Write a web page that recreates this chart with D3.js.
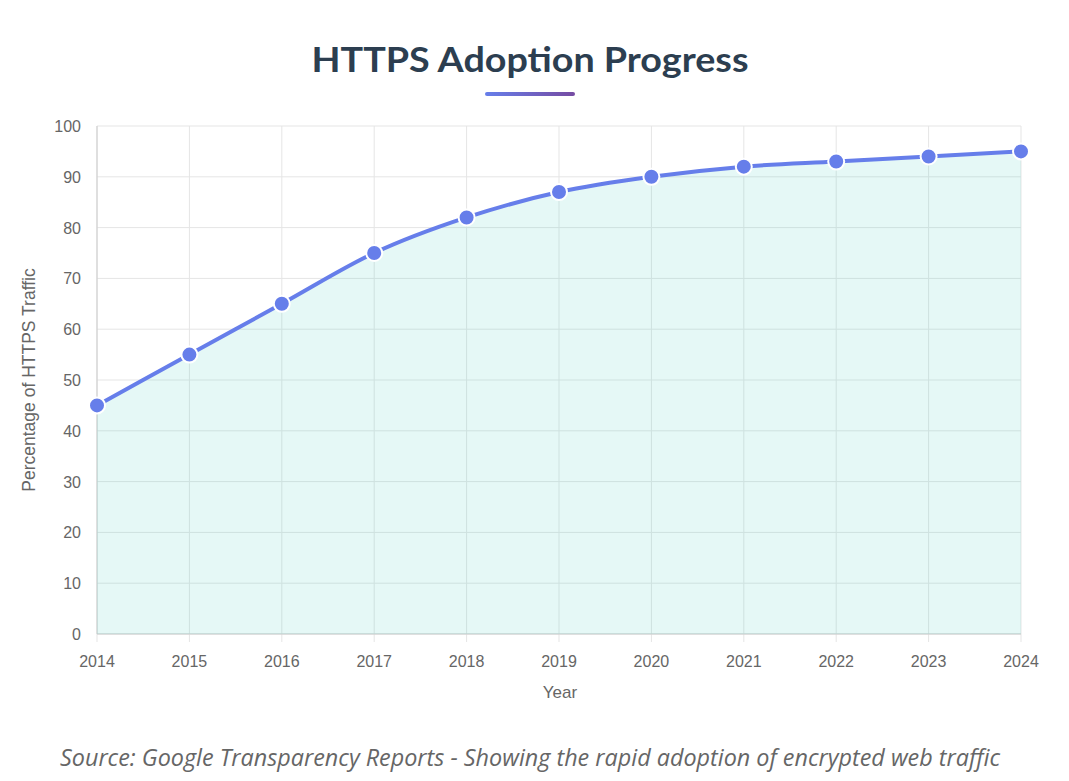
<!DOCTYPE html>
<html><head><meta charset="utf-8">
<script src="https://cdn.jsdelivr.net/npm/d3@7"></script>
<style>body{margin:0;background:#fff}</style>
</head><body>
<svg id="c" width="1069" height="781"></svg>
<script>
const years = ["2014","2015","2016","2017","2018","2019","2020","2021","2022","2023","2024"];
const values = [45,55,65,75,82,87,90,92,93,94,95];
const yTicks = [0,10,20,30,40,50,60,70,80,90,100];

const svg = d3.select("#c");
const L=97,R=1021,T=126,B=634;
const x = d3.scalePoint().domain(years).range([L,R]);
const y = d3.scaleLinear().domain([0,100]).range([B,T]);

const defs = svg.append("defs");
const g = defs.append("linearGradient").attr("id","ug");
g.append("stop").attr("offset","0%").attr("stop-color","#667eea");
g.append("stop").attr("offset","100%").attr("stop-color","#764ba2");

svg.append("text").attr("x",530).attr("y",72).attr("text-anchor","middle")
  .attr("font-family","Lato, 'Open Sans', sans-serif").attr("font-weight","bold")
  .attr("font-size",34).attr("textLength",437).attr("lengthAdjust","spacingAndGlyphs")
  .attr("fill","#2c3e50").text("HTTPS Adoption Progress");
svg.append("rect").attr("x",485).attr("y",92).attr("width",90).attr("height",4).attr("rx",2).attr("fill","url(#ug)");

svg.append("g").selectAll("line").data(yTicks).join("line")
  .attr("x1",L).attr("x2",R).attr("y1",d=>y(d)).attr("y2",d=>y(d))
  .attr("stroke","#e5e5e5");
svg.append("g").selectAll("line").data(years).join("line")
  .attr("x1",d=>x(d)).attr("x2",d=>x(d)).attr("y1",T).attr("y2",B+8)
  .attr("stroke","#e5e5e5");
svg.append("line").attr("x1",L).attr("x2",R).attr("y1",B).attr("y2",B).attr("stroke","#ccc");
svg.append("line").attr("x1",L).attr("x2",L).attr("y1",T).attr("y2",B).attr("stroke","#ccc");

const font="Liberation Sans, Arial, sans-serif";
svg.append("g").selectAll("text").data(yTicks).join("text")
  .attr("x",L-16).attr("y",d=>y(d)+6).attr("text-anchor","end")
  .attr("font-family",font).attr("font-size",16).attr("fill","#666").text(d=>d);
svg.append("g").selectAll("text").data(years).join("text")
  .attr("x",d=>x(d)).attr("y",667).attr("text-anchor","middle")
  .attr("font-family",font).attr("font-size",16).attr("fill","#666").text(d=>d);
svg.append("text").attr("x",560).attr("y",698).attr("text-anchor","middle")
  .attr("font-family",font).attr("font-size",17).attr("fill","#666").text("Year");
svg.append("text").attr("transform",`translate(35,${(T+B)/2}) rotate(-90)`).attr("text-anchor","middle")
  .attr("font-family",font).attr("font-size",17.5).attr("fill","#666").text("Percentage of HTTPS Traffic");

const pts = years.map((yr,i)=>[x(yr),y(values[i])]);
const curve = d3.curveMonotoneX;
svg.append("path").attr("d",d3.area().x(d=>d[0]).y0(B).y1(d=>d[1]).curve(curve)(pts))
  .attr("fill","rgba(78,205,196,0.15)");
svg.append("path").attr("d",d3.line().curve(curve)(pts))
  .attr("fill","none").attr("stroke","#667eea").attr("stroke-width",4);
svg.append("g").selectAll("circle").data(pts).join("circle")
  .attr("cx",d=>d[0]).attr("cy",d=>d[1]).attr("r",8)
  .attr("fill","#667eea").attr("stroke","#fff").attr("stroke-width",2);

svg.append("text").attr("x",530).attr("y",766).attr("text-anchor","middle")
  .attr("font-family","'Open Sans', sans-serif").attr("font-style","italic")
  .attr("font-size",23).attr("textLength",940).attr("lengthAdjust","spacingAndGlyphs").attr("fill","#666")
  .text("Source: Google Transparency Reports - Showing the rapid adoption of encrypted web traffic");
</script>
</body></html>
